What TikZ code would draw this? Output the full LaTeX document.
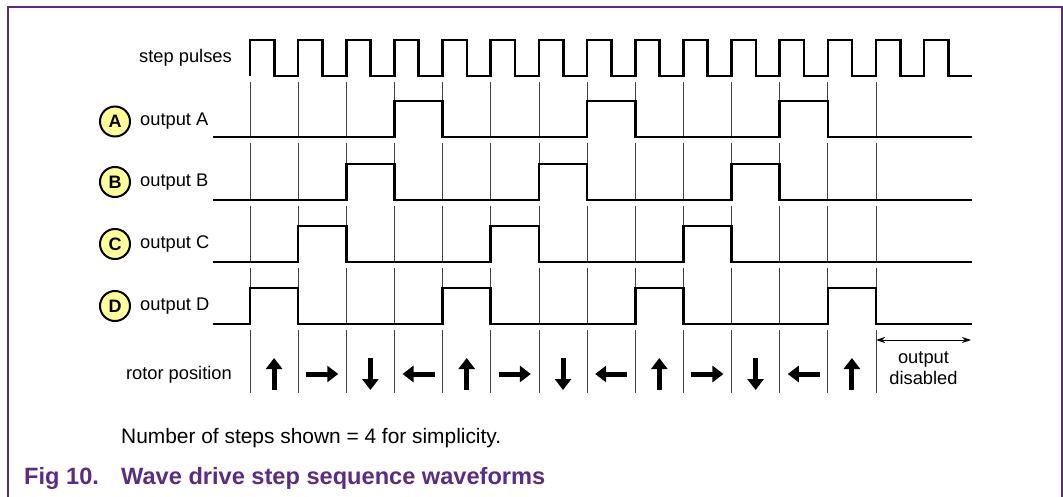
\documentclass[tikz,border=0pt]{standalone}
\usepackage{fontspec}
\setmainfont{Liberation Sans}
\usetikzlibrary{arrows.meta,positioning}

\definecolor{nxppurple}{RGB}{90,44,132}
\definecolor{badgeyellow}{RGB}{255,255,150}

\tikzset{
  wave/.style={line width=2.6pt},
  gridline/.style={black!75, line width=0.8pt},
  badge/.style={circle, draw, line width=2pt, fill=badgeyellow, minimum size=30pt,
    inner sep=0pt, font=\fontsize{18}{20}\selectfont\bfseries},
  lbl/.style={inner sep=0pt, font=\fontsize{18.3}{21}\selectfont},
  rotor/.style={line width=5pt, -{Triangle[width=16pt,length=11pt]}},
  caption/.style={inner sep=0pt, text=nxppurple, font=\fontsize{23.6}{26}\selectfont\bfseries},
}

\begin{document}
\begin{tikzpicture}[x=1pt,y=-1pt,>=stealth]
  \useasboundingbox (0,0) rectangle (1063,497);

  % Frame
  \draw[nxppurple,line width=1.5pt] (8,497) -- (8,7) -- (1062,7) -- (1062,497);

  % Grid lines (broken just below each trace)
  \foreach \k in {0,...,13}
    \foreach \t/\b in {82/137,143/200,206/262,268/324,330/393}
      \draw[gridline] ({250+\k*48.15},\t) -- ({250+\k*48.15},\b);

  % Step pulses
  \node[lbl,anchor=base east] (steplbl) at (232,63) {step pulses};
  \draw[wave] (250,76) foreach \i in {0,...,14} {
      -- ({250+\i*48.15},40) -- ({274.3+\i*48.15},40)
      -- ({274.3+\i*48.15},76) -- ({250+(\i+1)*48.15},76) };

  % Outputs A..D
  \foreach \ch/\lo/\cy/\slots in {A/137/121.5/{3,7,11}, B/200/182/{2,6,10},
                                  C/262/244/{1,5,9}, D/324/306/{0,4,8,12}} {
    \node[badge] (b\ch) at (115,\cy) {\ch};
    \node[lbl,right=9pt of b\ch] (o\ch) {output \ch};
    \draw[wave] (213,\lo) foreach \k in \slots {
        -- ({250+\k*48.15},\lo) -- ({250+\k*48.15},{\lo-36})
        -- ({250+(\k+1)*48.15},{\lo-36}) -- ({250+(\k+1)*48.15},\lo) }
      -- (972,\lo);
  }

  % Rotor position
  \node[lbl,anchor=base east] (rotlbl) at (232,379) {rotor position};
  \foreach \k in {0,...,12} {
    \pgfmathsetmacro\cx{274.1+\k*48.15}
    \pgfmathsetmacro\dx{16*sin(90*\k)}
    \pgfmathsetmacro\dy{-16*cos(90*\k)}
    \draw[rotor] ({\cx-(\dx)},{374-(\dy)}) -- ({\cx+\dx},{374+\dy});
  }

  % Output disabled
  \coordinate (dis1) at (876,340);
  \coordinate (dis2) at (971,340);
  \draw[{Stealth[length=9pt,width=6pt]}-{Stealth[length=9pt,width=6pt]},line width=0.9pt]
    (dis1) -- (dis2);
  \node[lbl,align=center,anchor=north] (distxt) at (923.5,351) {output\\disabled};

  % Note and caption
  \node[inner sep=0pt,anchor=base west,font=\fontsize{20.9}{24}\selectfont] (note)
    at (121,443) {Number of steps shown = 4 for simplicity.};
  \node[caption,anchor=base west] (fignum) at (24,484) {Fig 10.};
  \node[caption,anchor=base west] (figtitle) at (121,484) {Wave drive step sequence waveforms};
\end{tikzpicture}
\end{document}
